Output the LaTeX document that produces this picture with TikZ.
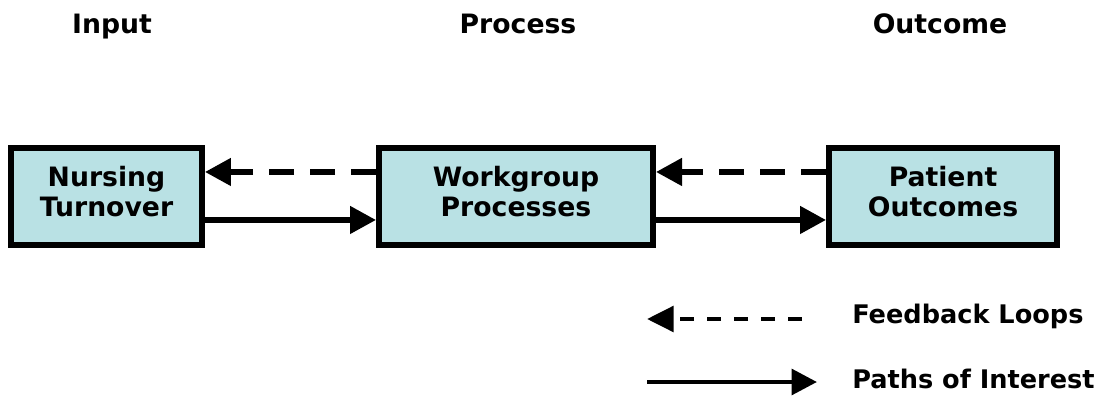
\documentclass[tikz,border=0pt]{standalone}
\usepackage{fontspec}
\setmainfont{DejaVu Sans}
\usepackage{tikz}
\usetikzlibrary{arrows.meta}

\definecolor{boxfill}{RGB}{185,225,228}

\tikzset{
  unit/.style={draw=black,line width=4.2pt,fill=boxfill,inner sep=0pt,
    minimum height=73pt,align=center,text height=37.5pt,text depth=7.5pt,
    font=\fontsize{20}{22.5}\selectfont\bfseries},
  head/.style={anchor=base,font=\fontsize{20}{24}\selectfont\bfseries},
  legtext/.style={anchor=base west,inner sep=0pt,font=\fontsize{19.2}{24}\selectfont\bfseries},
  fb/.style={line width=4.2pt,dash pattern=on 18.75pt off 12pt,-{Triangle[length=19.5pt,width=20pt]}},
  path/.style={line width=4.2pt,-{Triangle[length=19.5pt,width=20pt]}},
  fbkey/.style={line width=3.6pt,dash pattern=on 10.5pt off 9.75pt,-{Triangle[length=20pt,width=19pt]}},
  pathkey/.style={line width=3.6pt,-{Triangle[length=19pt,width=19pt]}}
}

\begin{document}
\begin{tikzpicture}[x=0.75pt,y=0.75pt]
  \useasboundingbox (0,0) rectangle (1112,401);

  \node[head] (input) at (112,368) {Input};
  \node[head] (process) at (518,368) {Process};
  \node[head] (outcome) at (940,368) {Outcome};

  \node[unit,minimum width=143.5pt] (nurse) at (106.5,204.5) {Nursing\\Turnover};
  \node[unit,minimum width=205.8pt] (work) at (516,204.5) {Workgroup\\Processes};
  \node[unit,minimum width=171.3pt] (patient) at (943,204.5) {Patient\\Outcomes};

  \draw[fb] ([yshift=18.4pt]work.west) -- ([yshift=18.4pt]nurse.east);
  \draw[path] ([yshift=-17.6pt]nurse.east) -- ([yshift=-17.6pt]work.west);
  \draw[fb] ([yshift=18.4pt]patient.west) -- ([yshift=18.4pt]work.east);
  \draw[path] ([yshift=-17.6pt]work.east) -- ([yshift=-17.6pt]patient.west);

  \coordinate (fb0) at (802,82);
  \coordinate (fb1) at (647,82);
  \coordinate (pt0) at (647,19);
  \coordinate (pt1) at (817,19);
  \draw[fbkey] (fb0) -- (fb1);
  \draw[pathkey] (pt0) -- (pt1);
  \node[legtext] (fbtext) at (852,78) {Feedback Loops};
  \node[legtext] (pttext) at (852,13) {Paths of Interest};
\end{tikzpicture}
\end{document}
